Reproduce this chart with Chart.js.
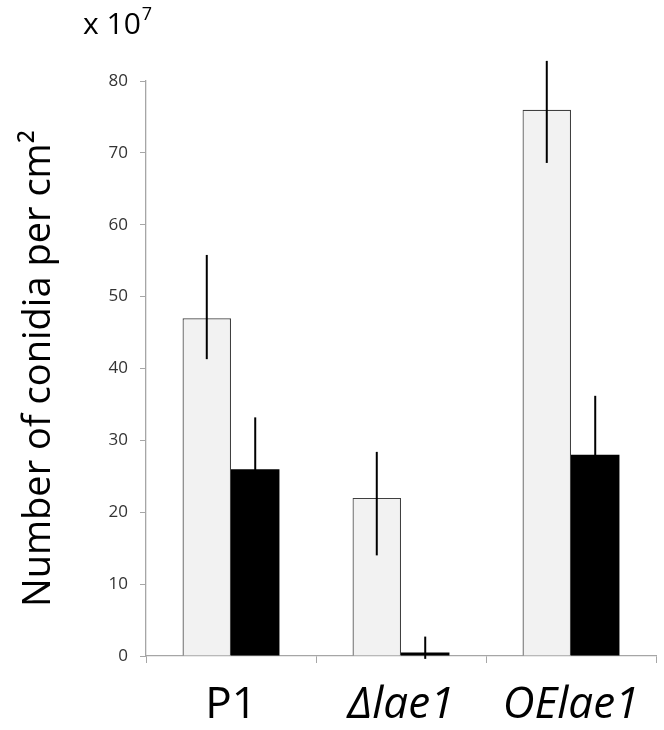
<!DOCTYPE html>
<html>
<head>
<meta charset="utf-8">
<script src="https://cdn.jsdelivr.net/npm/chart.js@4/dist/chart.umd.min.js"></script>
<style>
  html, body { margin: 0; padding: 0; background: #fff; }
  #wrap { width: 664px; height: 730px; position: relative; }
</style>
</head>
<body>
<div id="wrap"><canvas id="chart"></canvas></div>
<script>
// data (x 10^7 conidia per cm2)
const strains = ['P1', 'Δlae1', 'OElae1'];
const lightValues = [47, 22, 76];
const darkValues = [26, 0.5, 28];
// error bar ends
const lightLow = [41.3, 14, 68.6];
const lightHigh = [55.8, 28.4, 82.8];
const darkLow = [18.8, -0.4, 19.8];
const darkHigh = [33.2, 2.7, 36.2];
const yTicks = [0, 10, 20, 30, 40, 50, 60, 70, 80];

const fontFamily = '"Open Sans", "DejaVu Sans", sans-serif';

const errorBars = {
  id: 'errorBars',
  afterDatasetsDraw(chart) {
    const ctx = chart.ctx;
    const y = chart.scales.y;
    const ends = [[lightLow, lightHigh], [darkLow, darkHigh]];
    ctx.save();
    ctx.strokeStyle = '#000';
    ctx.lineWidth = 2;
    chart.data.datasets.forEach(function (ds, d) {
      let meta = chart.getDatasetMeta(d);
      meta.data.forEach(function (bar, i) {
        ctx.beginPath();
        ctx.moveTo(bar.x, y.getPixelForValue(ends[d][0][i]));
        ctx.lineTo(bar.x, y.getPixelForValue(ends[d][1][i]));
        ctx.stroke();
      });
    });
    ctx.restore();
  }
};

const unitLabel = {
  id: 'unitLabel',
  afterDraw(chart) {
    const ctx = chart.ctx;
    ctx.save();
    ctx.fillStyle = '#000';
    ctx.textBaseline = 'alphabetic';
    ctx.font = '30px ' + fontFamily;
    ctx.fillText('x 10', 83, 34);
    let w = ctx.measureText('x 10').width;
    ctx.font = '18px ' + fontFamily;
    ctx.fillText('7', 83 + w + 1, 20);
    ctx.restore();
  }
};

new Chart(document.getElementById('chart'), {
  type: 'bar',
  data: {
    labels: strains,
    datasets: [
      {
        data: lightValues,
        backgroundColor: '#f2f2f2',
        borderColor: '#404040',
        borderWidth: 1.2,
        barPercentage: 1,
        categoryPercentage: 0.57
      },
      {
        data: darkValues,
        backgroundColor: '#000',
        borderColor: '#000',
        borderWidth: 0,
        barPercentage: 1,
        categoryPercentage: 0.57
      }
    ]
  },
  options: {
    responsive: true,
    maintainAspectRatio: false,
    animation: false,
    layout: { padding: { top: 81, right: 8, left: 0, bottom: 0 } },
    plugins: {
      legend: { display: false },
      tooltip: { enabled: false }
    },
    scales: {
      x: {
        grid: {
          display: true,
          drawOnChartArea: false,
          offset: true,
          tickLength: 7,
          color: '#a6a6a6'
        },
        border: { display: true, color: '#a6a6a6', width: 1.3 },
        ticks: {
          color: '#000',
          padding: 16,
          maxRotation: 0,
          font: function (c) {
            return { family: fontFamily, size: 44, style: c.index > 0 ? 'italic' : 'normal', lineHeight: 1.2 };
          }
        },
        afterFit: function (scale) { scale.height = 74; }
      },
      y: {
        min: 0,
        max: 80,
        afterBuildTicks: function (scale) {
          scale.ticks = yTicks.map(function (v) { return { value: v }; });
        },
        grid: {
          display: true,
          drawOnChartArea: false,
          tickLength: 6,
          color: '#a6a6a6'
        },
        border: { display: true, color: '#a6a6a6', width: 1.3 },
        ticks: {
          color: '#333',
          padding: 12,
          font: { family: fontFamily, size: 17 }
        },
        title: {
          display: true,
          text: 'Number of conidia per cm²',
          color: '#000',
          font: { family: fontFamily, size: 38 },
          padding: { top: 16, bottom: 0 }
        },
        afterFit: function (scale) { scale.width = 146; }
      }
    }
  },
  plugins: [errorBars, unitLabel]
});
</script>
</body>
</html>
